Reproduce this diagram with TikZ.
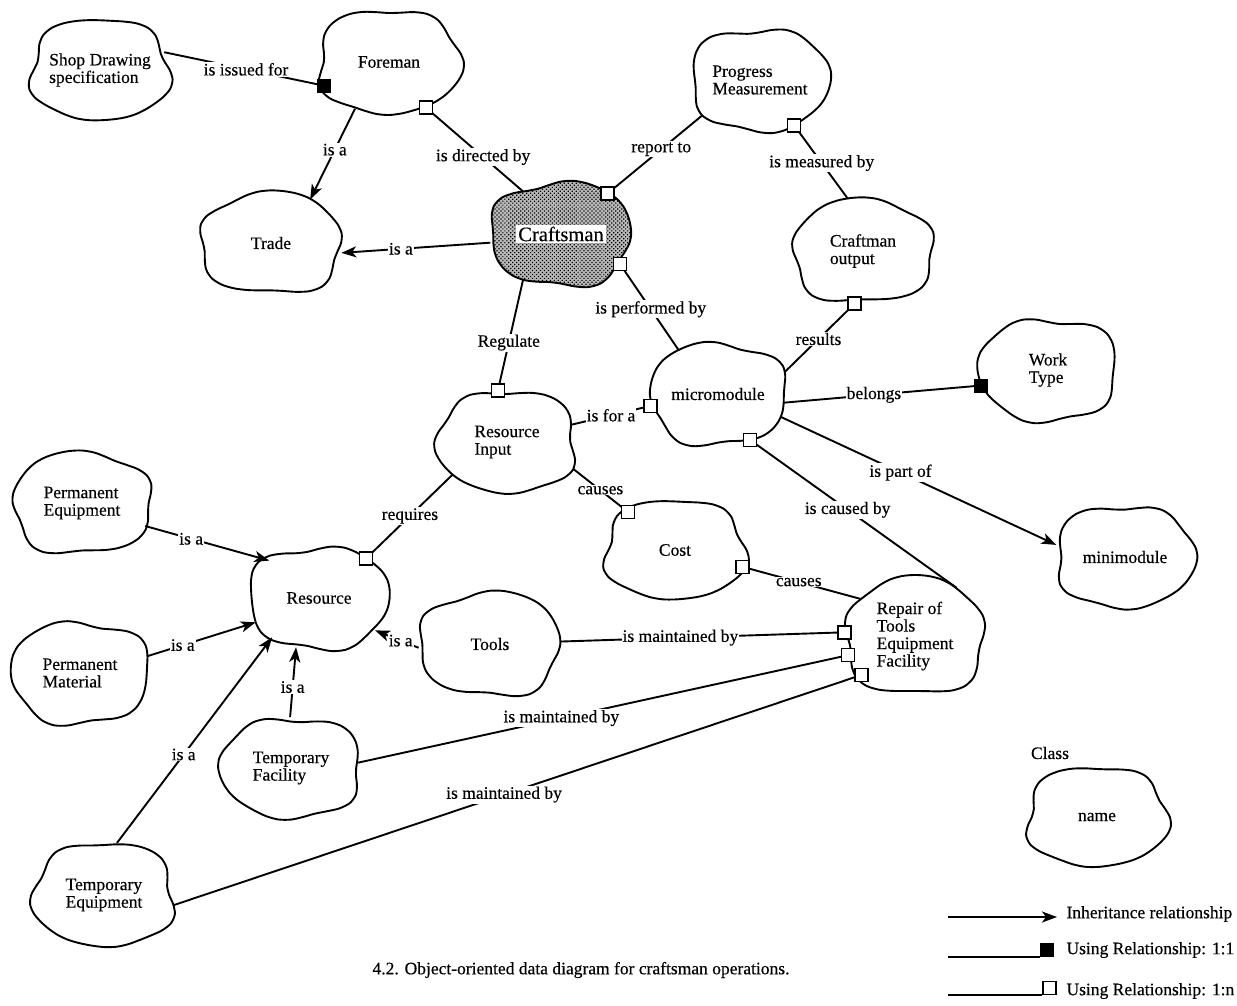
\documentclass[tikz,border=0pt]{standalone}
\usepackage{fontspec}
\setmainfont{Liberation Serif}[FakeBold=0.35]
\usetikzlibrary{arrows.meta,shapes.geometric,patterns.meta}
\setlength{\fboxsep}{2pt}

\pgfdeclarelayer{paper}
\pgfdeclarelayer{lines}
\pgfdeclarelayer{clouds}
\pgfsetlayers{paper,lines,clouds,main}

% radius factor of a wavy class outline (t = angle, #2 = phase)
\newcommand\wob[2]{(1+0.035*(1-cos(4*(#1)))+0.045*sin(5*(#1)+#2)+0.025*sin(3*(#1)+2*#2)+0.018*sin(7*(#1)+3*#2))}

% \classblob[outline style]{name}{(x,y)}{rx}{ry}{phase}{text}
\newcommand\classblob[7][]{%
  \node[cls, minimum width={2.07*#4pt}, minimum height={2.07*#5pt}] (#2) at #3 {#7};
  \begin{pgfonlayer}{clouds}
    \path[blobline, #1, shift={(#2.center)}]
      plot[smooth cycle, variable=\t, domain=0:350, samples=36]
      ({#4*\wob{\t}{#6}*cos(\t)}, {#5*\wob{\t}{#6}*sin(\t)});
  \end{pgfonlayer}}

\tikzset{
  cls/.style={ellipse, inner sep=0pt, align=left},
  blobline/.style={draw, fill=white, line width=1.9pt, line join=round},
  craftfill/.style={fill=black!28, postaction={pattern={Dots[distance=2.8pt,radius=0.85pt,angle=45]}, pattern color=black}},
  link/.style={line width=1.9pt, shorten <=-4pt, shorten >=-4pt},
  isa/.style={line width=1.9pt, -{Stealth[length=15pt, width=11pt, inset=4pt]}},
  lbl/.style={fill=white, inner sep=1pt},
  onesq/.style={rectangle, fill=black, minimum size=14pt, inner sep=0pt},
  nsq/.style={rectangle, draw, fill=white, line width=1.5pt, minimum size=13pt, inner sep=0pt},
}

\begin{document}
\begin{tikzpicture}[x=1pt, y=-1pt, font=\fontsize{17.5}{17.5}\selectfont]
\useasboundingbox (0,0) rectangle (1237,1005);
\begin{pgfonlayer}{paper}
  \fill[white] (0,0) rectangle (1237,1005);
\end{pgfonlayer}

% classes
\classblob{shop}{(100,70)}{68}{50}{10}{Shop Drawing\\specification}
\classblob{foreman}{(389,62)}{70}{51}{40}{Foreman}
\classblob{progress}{(760,80)}{68}{50}{75}{Progress\\Measurement}
\classblob[craftfill]{craftsman}{(561,234)}{69}{51}{120}{{\fontsize{20.5}{22}\selectfont\colorbox{white}{Craftsman}}}
\classblob{trade}{(271,243)}{69}{50}{160}{Trade}
\classblob{output}{(863,251)}{69}{51}{200}{Craftman\\output}
\classblob{micro}{(718,394)}{67}{50}{240}{micromodule}
\classblob{worktype}{(1048,370)}{68}{50}{280}{Work\\Type}
\classblob{rinput}{(507,442)}{68}{50}{320}{Resource\\Input}
\classblob{cost}{(675,550)}{69}{49}{15}{Cost}
\classblob{mini}{(1125,557)}{68}{50}{55}{minimodule}
\classblob{resource}{(319,598)}{69}{50}{95}{Resource}
\classblob{tools}{(490,644)}{69}{51}{135}{Tools}
\classblob{repair}{(915,636)}{68}{58}{175}{Repair of\\Tools\\Equipment\\Facility}
\classblob{permeq}{(82,503)}{68}{50}{215}{Permanent\\Equipment}
\classblob{permmat}{(80,673)}{68}{50}{255}{Permanent\\Material}
\classblob{tempfac}{(291,768)}{69}{49}{295}{Temporary\\Facility}
\classblob{tempeq}{(104,895)}{69}{51}{335}{Temporary\\Equipment}
\classblob{classname}{(1097,817)}{69}{49}{25}{name}
\node (classlbl) at (1050,753) {Class};

% using relationships
\begin{pgfonlayer}{lines}
  \draw[link] (shop.14) -- node[lbl,pos=.5]{is issued for} (foreman.200);
  \draw[link] (foreman.309) -- node[lbl,pos=.6]{is directed by} (craftsman.132);
  \draw[link] (craftsman.41) -- node[lbl,pos=.55]{report to} (progress.211);
  \draw[link] (progress.307) -- node[lbl,pos=.51]{is measured by} (output.106);
  \draw[link] (craftsman.333) -- node[lbl,pos=.52]{is performed by} (micro.132);
  \draw[link] (output.261) -- node[lbl,pos=.5]{results} (micro.17);
  \draw[link] (craftsman.230) -- node[lbl,pos=.57]{Regulate} (rinput.100);
  \draw[link] (micro.353) -- node[lbl,pos=.45]{belongs} (worktype.193);
  \draw[link] (rinput.15) -- node[lbl,pos=.49]{is for a} (micro.190);
  \draw[link] (micro.305) -- node[lbl,pos=.48]{is caused by} (repair.53);
  \draw[link] (rinput.339) -- node[lbl,pos=.53]{causes} (cost.141);
  \draw[link] (rinput.211) -- node[lbl,pos=.49]{requires} (resource.40);
  \draw[link] (cost.346) -- node[lbl,pos=.48]{causes} (repair.146);
  \draw[link] (tools.2) -- node[lbl,pos=.42]{is maintained by} (repair.177);
  \draw[link] (tempfac.5) -- node[lbl,pos=.41]{is maintained by} (repair.196);
  \draw[link] (tempeq.352) -- node[lbl,pos=.48]{is maintained by} (repair.216);
\end{pgfonlayer}

% inheritance relationships
\draw[isa] (foreman.234) -- node[lbl,pos=.45]{is a} (trade.48);
\draw[isa] (craftsman.187) -- node[lbl,pos=.6]{is a} (trade.352);
\draw[isa] (micro.340) -- node[lbl,pos=.435]{is part of} (mini.170);
\draw[isa] (permeq.340) -- node[lbl,pos=.37]{is a} (resource.143);
\draw[isa] (permmat.14) -- node[lbl,pos=.33]{is a} (resource.201);
\draw[isa] (tempeq.76) -- node[lbl,pos=.43]{is a} (resource.220);
\draw[isa] (tempfac.91) -- node[lbl,pos=.43]{is a} (resource.245);
\draw[isa] (tools.183) -- node[lbl,pos=.41]{is a} (resource.330);

% cardinality markers
\node[onesq] (sqa) at (foreman.200) {};
\node[nsq] (sqb) at (foreman.309) {};
\node[nsq] (sqc) at (craftsman.41) {};
\node[nsq] (sqd) at (progress.307) {};
\node[nsq] (sqe) at (craftsman.333) {};
\node[nsq] (sqf) at (output.261) {};
\node[nsq] (sqg) at (rinput.100) {};
\node[onesq] (sqh) at (worktype.193) {};
\node[nsq] (sqi) at (micro.190) {};
\node[nsq] (sqj) at (micro.305) {};
\node[nsq] (sqk) at (cost.141) {};
\node[nsq] (sql) at (resource.40) {};
\node[nsq] (sqm) at (cost.346) {};
\node[nsq] (sqn) at (repair.177) {};
\node[nsq] (sqo) at (repair.196) {};
\node[nsq] (sqp) at (repair.216) {};

% legend
\coordinate (lga) at (948,917);
\coordinate (lgb) at (1057,917);
\draw[isa] (lga) -- (lgb);
\node[anchor=west] (lgta) at (1063,914) {Inheritance relationship};
\coordinate (lgc) at (948,957);
\node[onesq, anchor=south west] (lgsqa) at (1040,957) {};
\draw[line width=1.9pt] (lgc) -- (lgsqa.south west);
\node[anchor=west] (lgtb) at (1063,950) {Using Relationship: 1:1};
\coordinate (lgd) at (948,995);
\node[nsq, anchor=south west] (lgsqb) at (1042,995) {};
\draw[line width=1.9pt] (lgd) -- (lgsqb.south west);
\node[anchor=west] (lgtc) at (1063,991) {Using Relationship: 1:n};

% caption
\node (caption) at (581,970) {4.2. Object-oriented data diagram for craftsman operations.};
\end{tikzpicture}
\end{document}
